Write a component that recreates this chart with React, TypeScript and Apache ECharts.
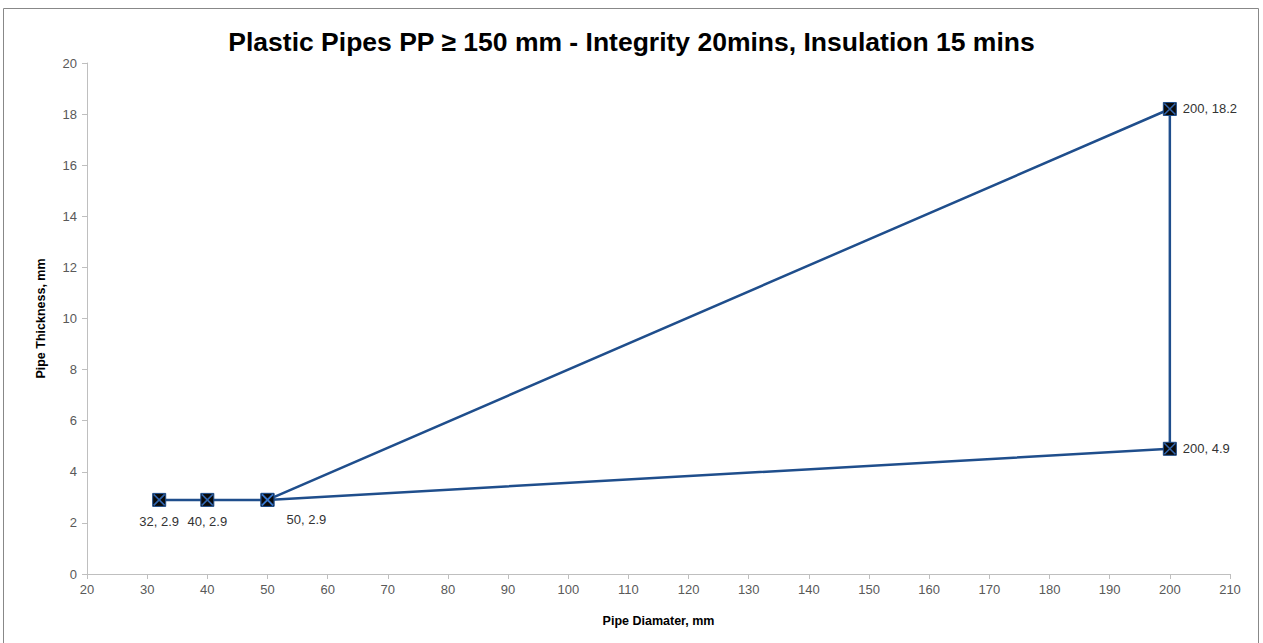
import React, { useEffect, useRef } from "react";
import * as echarts from "echarts";

const diameters = [32, 40, 50, 200, 200, 50];
const thickness = [2.9, 2.9, 2.9, 18.2, 4.9, 2.9];
const pointLabels = ["32, 2.9", "40, 2.9", "50, 2.9", "200, 18.2", "200, 4.9", ""];
const titleText = "Plastic Pipes PP \u2265 150 mm - Integrity 20mins, Insulation 15 mins";
const xName = "Pipe Diamater, mm";
const yName = "Pipe Thickness, mm";

const FONT = "'Liberation Sans', sans-serif";

export default function App() {
  const ref = useRef<HTMLDivElement>(null);
  useEffect(() => {
    const chart = echarts.init(ref.current!, null, { renderer: "svg" });
    const labelPos: any[] = [
      { position: "bottom", distance: 8, offset: [0, 0] },
      { position: "bottom", distance: 8, offset: [0, 0] },
      { position: "bottom", distance: 6, offset: [39, 0] },
      { position: "right", distance: 6, offset: [0, 0] },
      { position: "right", distance: 6, offset: [0, 0] },
      { show: false },
    ];
    const lineData = diameters.map((d, i) => ({
      value: [d, thickness[i]],
      label: {
        show: pointLabels[i] !== "",
        formatter: pointLabels[i],
        ...labelPos[i],
      },
    }));
    chart.setOption({
      animation: false,
      title: {
        text: titleText,
        left: "center",
        top: 23,
        textStyle: { fontFamily: FONT, fontWeight: "bold", fontSize: 26.5, color: "#000" },
      },
      graphic: [
        {
          type: "rect",
          shape: { x: 3.5, y: 8.5, width: 1255, height: 650 },
          style: { fill: "none", stroke: "#888", lineWidth: 1 },
          silent: true,
        },
      ],
      grid: { left: 87, right: 33, top: 63, bottom: 69 },
      xAxis: {
        type: "value",
        min: 20,
        max: 210,
        interval: 10,
        name: xName,
        nameLocation: "middle",
        nameGap: 40,
        nameTextStyle: { fontFamily: FONT, fontWeight: "bold", fontSize: 12.5, color: "#000" },
        axisLine: { show: true, lineStyle: { color: "#bfbfbf" } },
        axisTick: { show: true, length: 5, lineStyle: { color: "#bfbfbf" } },
        axisLabel: { fontFamily: FONT, fontSize: 13, color: "#595959", margin: 9 },
        splitLine: { show: false },
      },
      yAxis: {
        type: "value",
        min: 0,
        max: 20,
        interval: 2,
        name: yName,
        nameLocation: "middle",
        nameGap: 40,
        nameTextStyle: { fontFamily: FONT, fontWeight: "bold", fontSize: 12.5, color: "#000" },
        axisLine: { show: true, lineStyle: { color: "#bfbfbf" } },
        axisTick: { show: true, length: 5, lineStyle: { color: "#bfbfbf" } },
        axisLabel: { fontFamily: FONT, fontSize: 13, color: "#595959", margin: 10 },
        splitLine: { show: false },
      },
      series: [
        {
          type: "line",
          data: lineData,
          symbol: "rect",
          symbolSize: 13,
          lineStyle: { color: "#1f4e8c", width: 2.5 },
          itemStyle: { color: "#0a0a0a", borderColor: "#1f4e8c", borderWidth: 1 },
          label: { fontFamily: FONT, fontSize: 13, color: "#333" },
          z: 2,
        },
        {
          type: "scatter",
          data: diameters.map((d, i) => [d, thickness[i]]),
          symbol: "path://M0,0L10,10M10,0L0,10",
          symbolSize: 11,
          itemStyle: { color: "none", borderColor: "#3a7bd5", borderWidth: 1.6 },
          z: 3,
          silent: true,
        },
      ],
    });
    return () => chart.dispose();
  }, []);
  return (
    <div
      ref={ref}
      style={{ position: "fixed", left: 0, top: 0, width: 1263, height: 643, background: "#fff" }}
    />
  );
}
